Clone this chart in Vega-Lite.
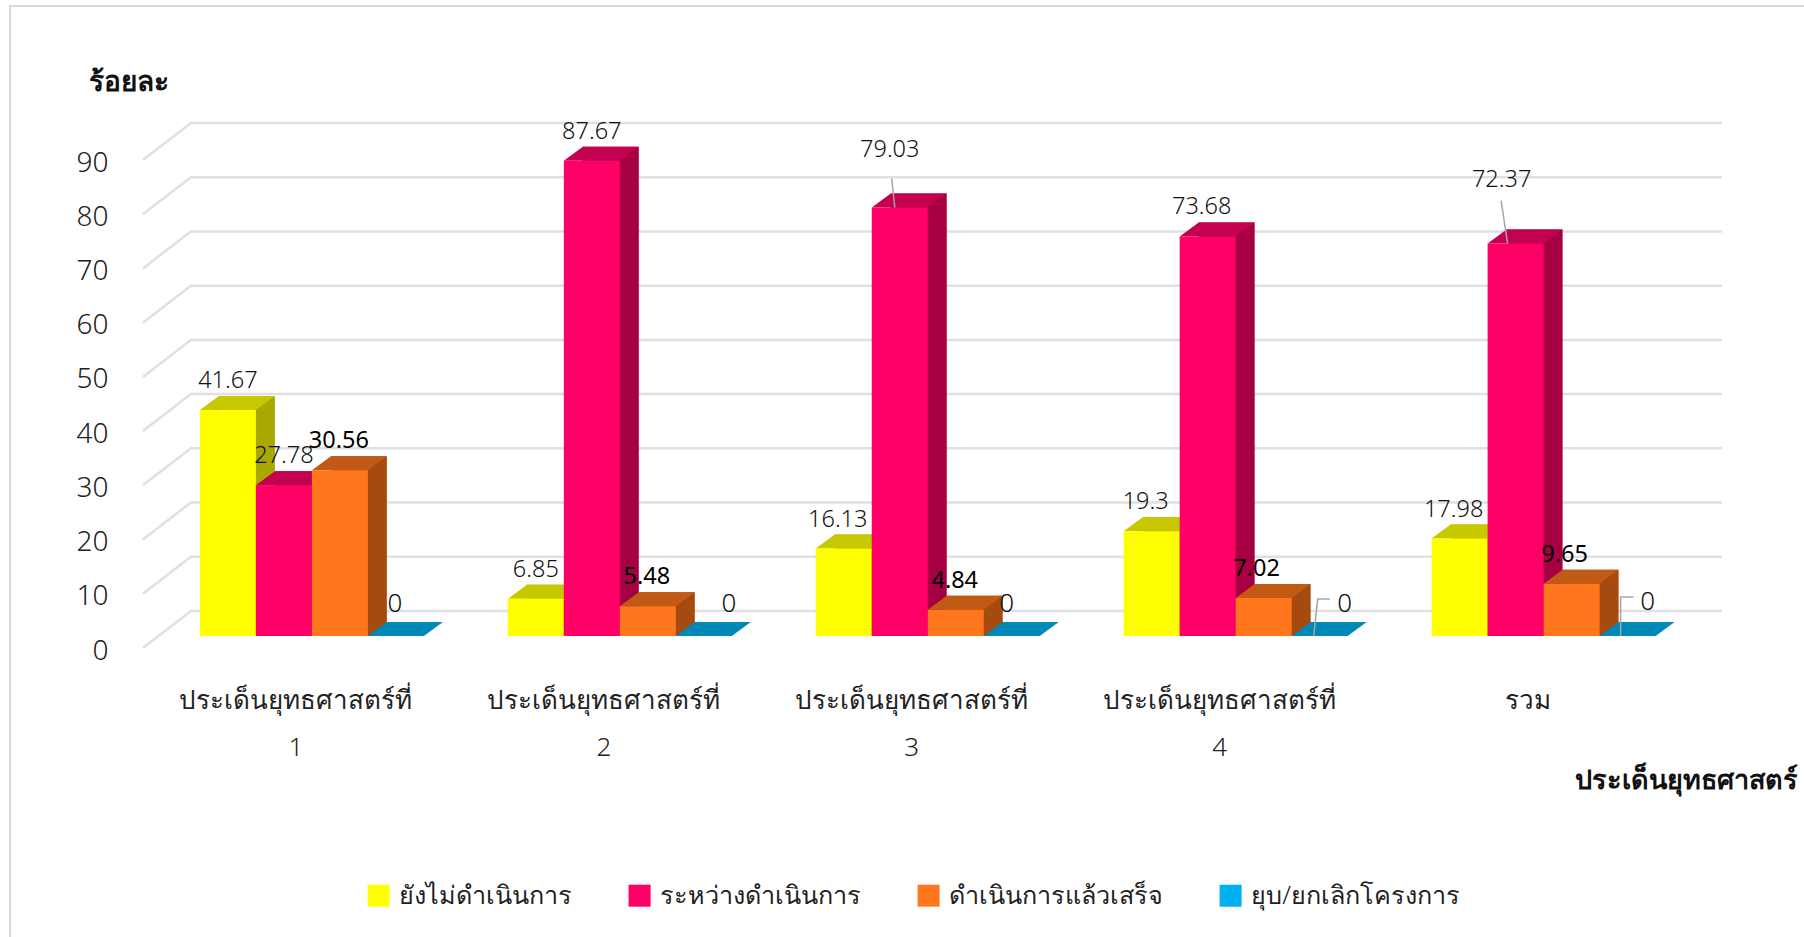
{
"$schema":"https://vega.github.io/schema/vega-lite/v6.json",
"width":1798,"height":935,
"autosize":{"type":"none"},
"padding":{"left":10,"top":6,"right":-4,"bottom":-4},
"background":"white",
"config":{"view":{"stroke":"#d9d9d9","strokeWidth":2},"font":"Noto Sans"},
"datasets":{
"grid":[{"tick":0},{"tick":10},{"tick":20},{"tick":30},{"tick":40},{"tick":50},{"tick":60},{"tick":70},{"tick":80},{"tick":90}],
"bars":[
{"category":"ประเด็นยุทธศาสตร์ที่ 1","series":"ยังไม่ดำเนินการ","value":41.67},
{"category":"ประเด็นยุทธศาสตร์ที่ 1","series":"ระหว่างดำเนินการ","value":27.78},
{"category":"ประเด็นยุทธศาสตร์ที่ 1","series":"ดำเนินการแล้วเสร็จ","value":30.56},
{"category":"ประเด็นยุทธศาสตร์ที่ 1","series":"ยุบ/ยกเลิกโครงการ","value":0},
{"category":"ประเด็นยุทธศาสตร์ที่ 2","series":"ยังไม่ดำเนินการ","value":6.85},
{"category":"ประเด็นยุทธศาสตร์ที่ 2","series":"ระหว่างดำเนินการ","value":87.67},
{"category":"ประเด็นยุทธศาสตร์ที่ 2","series":"ดำเนินการแล้วเสร็จ","value":5.48},
{"category":"ประเด็นยุทธศาสตร์ที่ 2","series":"ยุบ/ยกเลิกโครงการ","value":0},
{"category":"ประเด็นยุทธศาสตร์ที่ 3","series":"ยังไม่ดำเนินการ","value":16.13},
{"category":"ประเด็นยุทธศาสตร์ที่ 3","series":"ระหว่างดำเนินการ","value":79.03},
{"category":"ประเด็นยุทธศาสตร์ที่ 3","series":"ดำเนินการแล้วเสร็จ","value":4.84},
{"category":"ประเด็นยุทธศาสตร์ที่ 3","series":"ยุบ/ยกเลิกโครงการ","value":0},
{"category":"ประเด็นยุทธศาสตร์ที่ 4","series":"ยังไม่ดำเนินการ","value":19.3},
{"category":"ประเด็นยุทธศาสตร์ที่ 4","series":"ระหว่างดำเนินการ","value":73.68},
{"category":"ประเด็นยุทธศาสตร์ที่ 4","series":"ดำเนินการแล้วเสร็จ","value":7.02},
{"category":"ประเด็นยุทธศาสตร์ที่ 4","series":"ยุบ/ยกเลิกโครงการ","value":0},
{"category":"รวม","series":"ยังไม่ดำเนินการ","value":17.98},
{"category":"รวม","series":"ระหว่างดำเนินการ","value":72.37},
{"category":"รวม","series":"ดำเนินการแล้วเสร็จ","value":9.65},
{"category":"รวม","series":"ยุบ/ยกเลิกโครงการ","value":0}
]},
"data":{"name":"bars"},
"encoding":{
"x":{"field":"category","type":"nominal","sort":null,"axis":{"title":"ประเด็นยุทธศาสตร์","titleFontSize":27,"titleFontWeight":"bold","titleColor":"#111","titleX":1787,"titleY":95,"titleAlign":"right","titleBaseline":"middle","offset":-256,"domain":false,"ticks":false,"labelAngle":0,"labelFontSize":26,"labelColor":"#222","labelFontWeight":300,"labelExpr":"split(datum.label,' ')","labelLineHeight":47,"labelOffset":-16,"labelPadding":2,"labelBaseline":"top","labelLimit":400},"scale":{"domain":["ประเด็นยุทธศาสตร์ที่ 1","ประเด็นยุทธศาสตร์ที่ 2","ประเด็นยุทธศาสตร์ที่ 3","ประเด็นยุทธศาสตร์ที่ 4","รวม"],"range":[148,1687.5],"paddingInner":0.2725,"paddingOuter":0.136}},
"xOffset":{"field":"series","type":"nominal","scale":{"domain":["ยังไม่ดำเนินการ","ระหว่างดำเนินการ","ดำเนินการแล้วเสร็จ","ยุบ/ยกเลิกโครงการ"]}},
"y":{"field":"value","type":"quantitative","stack":null,"axis":{"values":[0,10,20,30,40,50,60,70,80,90],"grid":false,"domain":false,"ticks":false,"offset":-100,"labelPadding":2,"labelOffset":15,"labelFontSize":28,"labelFontWeight":300,"labelColor":"#222","title":"ร้อยละ","titleFontSize":28,"titleFontWeight":"bold","titleColor":"#111","titleAngle":0,"titleAlign":"left","titleBaseline":"middle","titleX":-22,"titleY":76},"scale":{"domain":[0,90],"range":[630,142],"nice":false,"zero":true}}
},
"layer":[
{"data":{"name":"grid"},
 "mark":{"type":"point","filled":false,"shape":"M-3.38,0.24L-2.42,-0.5L28.2,-0.5","size":10000,"stroke":"#e0e0e0","strokeWidth":2.5,"opacity":1},
 "encoding":{
  "x":{"datum":"ประเด็นยุทธศาสตร์ที่ 1","type":"nominal","axis":{"title":"ประเด็นยุทธศาสตร์","titleFontSize":27,"titleFontWeight":"bold","titleColor":"#111","titleX":1787,"titleY":95,"titleAlign":"right","titleBaseline":"middle","offset":-256,"domain":false,"ticks":false,"labelAngle":0,"labelFontSize":26,"labelColor":"#222","labelFontWeight":300,"labelExpr":"split(datum.label,' ')","labelLineHeight":47,"labelOffset":-16,"labelPadding":2,"labelBaseline":"top","labelLimit":400}},
  "xOffset":null,
  "y":{"field":"tick","type":"quantitative","axis":{"values":[0,10,20,30,40,50,60,70,80,90],"grid":false,"domain":false,"ticks":false,"offset":-100,"labelPadding":2,"labelOffset":15,"labelFontSize":28,"labelFontWeight":300,"labelColor":"#222","title":"ร้อยละ","titleFontSize":28,"titleFontWeight":"bold","titleColor":"#111","titleAngle":0,"titleAlign":"left","titleBaseline":"middle","titleX":-22,"titleY":76}}
 }},
{"transform":[{"filter":"datum.value>0 && datum.series=='ยังไม่ดำเนินการ'"}],
 "mark":{"type":"bar","width":56,"xOffset":-65,"yOffset":-14,"y2Offset":-14,"color":"#A8A800"},
 "encoding":{"xOffset":null}},
{"transform":[{"filter":"datum.value>0 && datum.series=='ระหว่างดำเนินการ'"}],
 "mark":{"type":"bar","width":56,"xOffset":-9,"yOffset":-14,"y2Offset":-14,"color":"#A60042"},
 "encoding":{"xOffset":null}},
{"transform":[{"filter":"datum.value>0 && datum.series=='ดำเนินการแล้วเสร็จ'"}],
 "mark":{"type":"bar","width":56,"xOffset":47,"yOffset":-14,"y2Offset":-14,"color":"#A64B10"},
 "encoding":{"xOffset":null}},
{"transform":[{"filter":"datum.value>0"}],
 "mark":{"type":"point","filled":true,"opacity":1,"size":10000,"shape":"M0.56,0L0.94,-0.28L0.56,-0.28Z"},
 "encoding":{"y":{"datum":0,"type":"quantitative","axis":{"values":[0,10,20,30,40,50,60,70,80,90],"grid":false,"domain":false,"ticks":false,"offset":-100,"labelPadding":2,"labelOffset":15,"labelFontSize":28,"labelFontWeight":300,"labelColor":"#222","title":"ร้อยละ","titleFontSize":28,"titleFontWeight":"bold","titleColor":"#111","titleAngle":0,"titleAlign":"left","titleBaseline":"middle","titleX":-22,"titleY":76}},"color":{"field":"series","type":"nominal","legend":null,"scale":{"domain":["ยังไม่ดำเนินการ","ระหว่างดำเนินการ","ดำเนินการแล้วเสร็จ","ยุบ/ยกเลิกโครงการ"],"range":["#A8A800","#A60042","#A64B10","#0088B8"]}}}},
{"mark":{"type":"point","filled":true,"opacity":1,"size":10000,"shape":"M-0.56,0L0.56,0L0.94,-0.28L-0.18,-0.28Z"},
 "encoding":{"color":{"field":"series","type":"nominal","legend":null,"scale":{"domain":["ยังไม่ดำเนินการ","ระหว่างดำเนินการ","ดำเนินการแล้วเสร็จ","ยุบ/ยกเลิกโครงการ"],"range":["#C8C800","#C40050","#C05A14","#0088B8"]}}}},
{"mark":{"type":"bar"},
 "encoding":{"color":{"field":"series","type":"nominal","scale":{"domain":["ยังไม่ดำเนินการ","ระหว่างดำเนินการ","ดำเนินการแล้วเสร็จ","ยุบ/ยกเลิกโครงการ"],"range":["#FFFF00","#FF0066","#FF761C","#00B0F0"]},
  "legend":{"orient":"none","legendX":356,"legendY":877,"direction":"horizontal","columns":4,"title":null,"symbolType":"square","symbolSize":484,"symbolStrokeWidth":0,"labelFontSize":25.2,"labelFontWeight":300,"labelColor":"#222","labelOffset":8,"columnPadding":54,"labelLimit":400,"padding":0}}}},
{"transform":[{"filter":"datum.value>0 && datum.value!=79.03 && datum.value!=72.37 && datum.series!='ดำเนินการแล้วเสร็จ' && (datum.category=='ประเด็นยุทธศาสตร์ที่ 1' || datum.category=='ประเด็นยุทธศาสตร์ที่ 2')"}],
 "mark":{"type":"text","dx":0,"dy":-29,"fontSize":23.5,"fontWeight":300,"color":"#111","baseline":"middle"},
 "encoding":{"text":{"field":"value","type":"quantitative"}}},
{"transform":[{"filter":"datum.value>0 && datum.value!=79.03 && datum.value!=72.37 && datum.series!='ดำเนินการแล้วเสร็จ' && datum.category!='ประเด็นยุทธศาสตร์ที่ 1' && datum.category!='ประเด็นยุทธศาสตร์ที่ 2'"}],
 "mark":{"type":"text","dx":-6,"dy":-29,"fontSize":23.5,"fontWeight":300,"color":"#111","baseline":"middle"},
 "encoding":{"text":{"field":"value","type":"quantitative"}}},
{"transform":[{"filter":"datum.series=='ดำเนินการแล้วเสร็จ' && (datum.category=='ประเด็นยุทธศาสตร์ที่ 1' || datum.category=='ประเด็นยุทธศาสตร์ที่ 2' || datum.category=='ประเด็นยุทธศาสตร์ที่ 3')"}],
 "mark":{"type":"text","dy":-29,"dx":-1,"fontSize":23.5,"fontWeight":400,"color":"#000","baseline":"middle"},
 "encoding":{"text":{"field":"value","type":"quantitative"}}},
{"transform":[{"filter":"datum.series=='ดำเนินการแล้วเสร็จ' && (datum.category=='ประเด็นยุทธศาสตร์ที่ 4' || datum.category=='รวม')"}],
 "mark":{"type":"text","dy":-29,"dx":-7,"fontSize":23.5,"fontWeight":400,"color":"#000","baseline":"middle"},
 "encoding":{"text":{"field":"value","type":"quantitative"}}},
{"transform":[{"filter":"datum.value==79.03"}],
 "mark":{"type":"text","dx":-10,"dy":-57,"fontSize":23.5,"fontWeight":300,"color":"#111","baseline":"middle"},
 "encoding":{"text":{"field":"value","type":"quantitative"}}},
{"transform":[{"filter":"datum.value==72.37"}],
 "mark":{"type":"text","dx":-14,"dy":-64,"fontSize":23.5,"fontWeight":300,"color":"#111","baseline":"middle"},
 "encoding":{"text":{"field":"value","type":"quantitative"}}},
{"transform":[{"filter":"datum.value==0 && datum.category=='ประเด็นยุทธศาสตร์ที่ 1'"}],
 "mark":{"type":"text","dx":-1,"dy":-32,"fontSize":26,"fontWeight":300,"color":"#111","baseline":"middle"},
 "encoding":{"text":{"field":"value","type":"quantitative"}}},
{"transform":[{"filter":"datum.value==0 && datum.category=='ประเด็นยุทธศาสตร์ที่ 3'"}],
 "mark":{"type":"text","dx":-5,"dy":-32,"fontSize":26,"fontWeight":300,"color":"#111","baseline":"middle"},
 "encoding":{"text":{"field":"value","type":"quantitative"}}},
{"transform":[{"filter":"datum.value==0 && (datum.category=='ประเด็นยุทธศาสตร์ที่ 2' || datum.category=='ประเด็นยุทธศาสตร์ที่ 4')"}],
 "mark":{"type":"text","dx":25,"dy":-32,"fontSize":26,"fontWeight":300,"color":"#111","baseline":"middle"},
 "encoding":{"text":{"field":"value","type":"quantitative"}}},
{"transform":[{"filter":"datum.value==0 && datum.category=='รวม'"}],
 "mark":{"type":"text","dx":20,"dy":-34,"fontSize":26,"fontWeight":300,"color":"#111","baseline":"middle"},
 "encoding":{"text":{"field":"value","type":"quantitative"}}},
{"transform":[{"filter":"datum.value==79.03"}],
 "mark":{"type":"point","filled":false,"opacity":1,"size":10000,"stroke":"#a6a6a6","strokeWidth":1.5,"shape":"M-0.1,0L-0.16,-0.58"}},
{"transform":[{"filter":"datum.value==72.37"}],
 "mark":{"type":"point","filled":false,"opacity":1,"size":10000,"stroke":"#a6a6a6","strokeWidth":1.5,"shape":"M-0.16,0L-0.29,-0.86"}},
{"transform":[{"filter":"datum.value==0 && datum.category=='ประเด็นยุทธศาสตร์ที่ 4'"}],
 "mark":{"type":"point","filled":false,"opacity":1,"size":10000,"stroke":"#a6a6a6","strokeWidth":1.5,"shape":"M-0.12,0L-0.04,-0.74L0.2,-0.74"}},
{"transform":[{"filter":"datum.value==0 && datum.category=='รวม'"}],
 "mark":{"type":"point","filled":false,"opacity":1,"size":10000,"stroke":"#a6a6a6","strokeWidth":1.5,"shape":"M-0.14,0L-0.14,-0.78L0.12,-0.78"}}
],
"resolve":{"scale":{"color":"independent"}}
}
